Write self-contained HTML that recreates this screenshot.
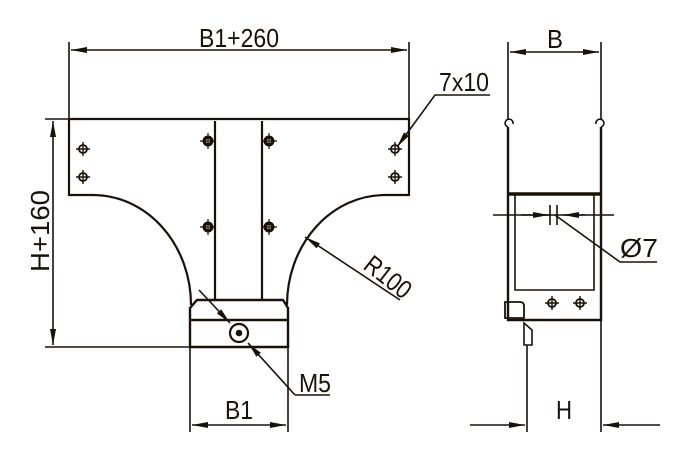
<!DOCTYPE html>
<html><head><style>body{margin:0;background:#fff}svg{display:block}text{font-family:"Liberation Sans",sans-serif;fill:#1a1208}</style></head><body>
<svg width="683" height="460" viewBox="0 0 683 460" xmlns="http://www.w3.org/2000/svg">
<defs>
<marker id="a" viewBox="0 0 16 6" refX="16" refY="3" markerWidth="16" markerHeight="6" orient="auto-start-reverse" markerUnits="userSpaceOnUse"><path d="M0,0L16,3L0,6z" fill="#1a1208"/></marker>
<g id="h"><circle r="4" fill="none" stroke="#1a1208" stroke-width="1.8"/><path d="M-7,0H7M0,-7V7" stroke="#1a1208" stroke-width="1.4"/></g>
<g id="hb"><circle r="5.5" fill="#1a1208"/><circle r="2" fill="#fff"/><path d="M-8,0H8M0,-8V8" stroke="#1a1208" stroke-width="1.2"/></g>
</defs>
<g stroke="#1a1208" fill="none" stroke-width="1.6">
<path d="M69,119H409V195H385 A98,110 0 0 0 287,305 M69,119V195H93 A98,110 0 0 1 191,305" stroke-width="2.2"/>
<path d="M215,121V300M262,121V300" stroke-width="2.2"/>
<path d="M197,300H283L288,308V347H190V308Z M190,320H288" stroke-width="2.4"/>
<circle cx="239" cy="333" r="9" stroke-width="2.2"/><circle cx="239" cy="333" r="2.5" fill="#1a1208"/>
<path d="M69,42V119M409,42V119"/>
<path d="M71,50H407" marker-start="url(#a)" marker-end="url(#a)"/>
<path d="M45,119H69M45,347H190"/>
<path d="M53,121V345" marker-start="url(#a)" marker-end="url(#a)"/>
<path d="M190,347V432M288,347V432"/>
<path d="M192,425H286" marker-start="url(#a)" marker-end="url(#a)"/>
<path d="M199,290L230,323" marker-end="url(#a)"/><path d="M295,395L248,343" marker-end="url(#a)"/><path d="M295,395H330"/>
<path d="M400,300L305,237" marker-end="url(#a)"/>
<path d="M490,95H435L397,147" marker-end="url(#a)"/>
<path d="M508,42V120M601,42V120"/>
<path d="M510,52H599" marker-start="url(#a)" marker-end="url(#a)"/>
<path d="M508,135V320H601V135" stroke-width="2.4"/>
<path d="M508,194H601" stroke-width="3.5"/>
<path d="M515,195V290H594V195M515,290H594"/>
<path d="M508,135V127M601,135V127" stroke-width="2.4"/>
<path d="M508,127a4,4 0 1 1 5,-3M601,127a4,4 0 1 0 -5,-3"/>
<path d="M505,302H520Q524,302 524,306V318H505Z" stroke-width="1.8"/>
<path d="M524,323V345H532V330Z"/>
<path d="M493,215H614"/>
<path d="M521,215H549" marker-end="url(#a)"/><path d="M585,215H563" marker-end="url(#a)"/>
<path d="M550,205V225M557,205V225"/>
<path d="M555,215L620,262H657"/>
<path d="M527,345V432M601,320V432"/>
<path d="M470,425H525" marker-end="url(#a)"/><path d="M660,425H603" marker-end="url(#a)"/>
</g>
<use href="#h" x="83" y="149"/><use href="#h" x="83" y="177"/>
<use href="#h" x="395" y="149"/><use href="#h" x="395" y="177"/>
<use href="#hb" x="208" y="141"/><use href="#hb" x="269" y="141"/>
<use href="#hb" x="208" y="227"/><use href="#hb" x="269" y="227"/>
<use href="#h" x="552" y="303"/><use href="#h" x="580" y="303"/>
<g font-size="26">
<text x="199" y="47" textLength="80" lengthAdjust="spacingAndGlyphs">B1+260</text>
<text x="439" y="91" textLength="50" lengthAdjust="spacingAndGlyphs">7x10</text>
<text x="547" y="48" textLength="16" lengthAdjust="spacingAndGlyphs">B</text>
<text transform="translate(49,272) rotate(-90)" textLength="82" lengthAdjust="spacingAndGlyphs">H+160</text>
<text transform="translate(362,268) rotate(38)" textLength="52" lengthAdjust="spacingAndGlyphs">R100</text>
<text x="299" y="392" textLength="32" lengthAdjust="spacingAndGlyphs">M5</text>
<text x="225" y="419" textLength="28" lengthAdjust="spacingAndGlyphs">B1</text>
<text x="620" y="257" textLength="38" lengthAdjust="spacingAndGlyphs">Ø7</text>
<text x="556" y="419" textLength="16" lengthAdjust="spacingAndGlyphs">H</text>
</g>
</svg>
</body></html>
